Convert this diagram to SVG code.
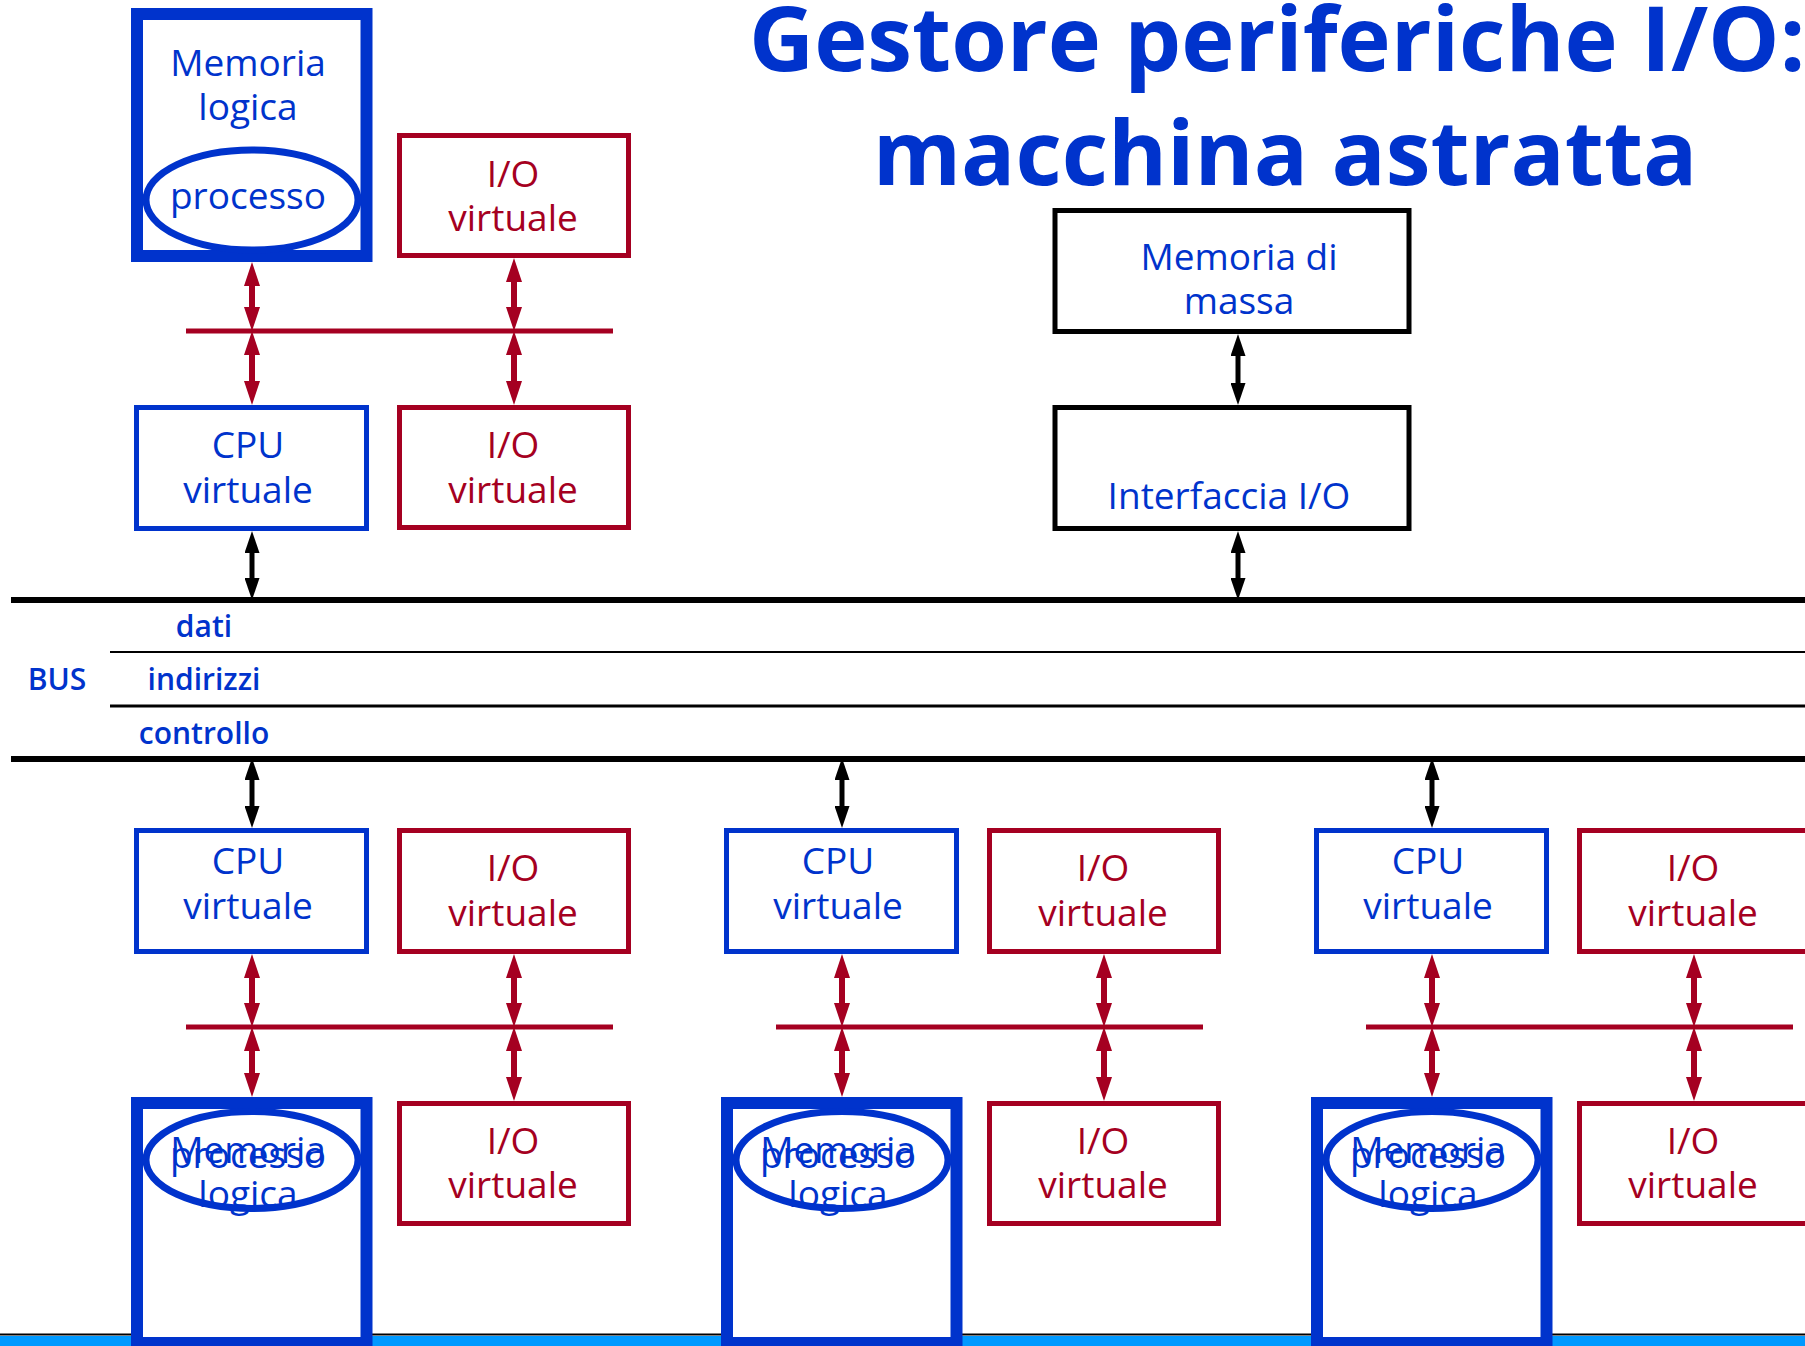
<svg xmlns="http://www.w3.org/2000/svg" width="1805" height="1346" viewBox="0 0 1805 1346">
<style>
.t{font-family:"Open Sans","Liberation Sans",sans-serif;font-size:37px;font-weight:500;text-anchor:middle}
.b{fill:#0033cc}
.r{fill:#a50021}
.bus{font-family:"Open Sans","Liberation Sans",sans-serif;font-size:30px;font-weight:600;fill:#0033cc;text-anchor:middle}
.title{font-family:"Open Sans","Liberation Sans",sans-serif;font-size:90px;font-weight:bold;fill:#0033cc}
.mem{fill:#fff;stroke:#0033cc;stroke-width:12}
.ell{fill:none;stroke:#0033cc;stroke-width:7}
.ellw{fill:#fff;stroke:#0033cc;stroke-width:7}
.cpu{fill:#fff;stroke:#0033cc;stroke-width:5}
.io{fill:#fff;stroke:#a50021;stroke-width:5}
.blk{fill:#fff;stroke:#000;stroke-width:5}
.rl{stroke:#a50021;stroke-width:6;marker-start:url(#ar);marker-end:url(#ar)}
.bl{stroke:#000;stroke-width:5;marker-start:url(#ab);marker-end:url(#ab)}
.rh{stroke:#a50021;stroke-width:5}
</style>
<defs>
<marker id="ar" viewBox="0 0 24 16" refX="14" refY="8" markerWidth="24" markerHeight="16" markerUnits="userSpaceOnUse" orient="auto-start-reverse"><path d="M0,0L24,8L0,16z" fill="#a50021"/></marker>
<marker id="ab" viewBox="0 0 22 15" refX="12" refY="7.5" markerWidth="22" markerHeight="15" markerUnits="userSpaceOnUse" orient="auto-start-reverse"><path d="M0,0L22,7.5L0,15z" fill="#000"/></marker>
</defs>
<rect width="1805" height="1346" fill="#fff"/>

<g id="title">
<text class="title" x="749" y="71">Gestore periferiche I/O:</text>
<text class="title" x="1285" y="185" text-anchor="middle" font-size="88">macchina astratta</text>
</g>

<g id="bus">
<line x1="11" y1="600" x2="1805" y2="600" stroke="#000" stroke-width="6"/>
<line x1="110" y1="652" x2="1805" y2="652" stroke="#000" stroke-width="2"/>
<line x1="110" y1="706" x2="1805" y2="706" stroke="#000" stroke-width="3"/>
<line x1="11" y1="759" x2="1805" y2="759" stroke="#000" stroke-width="6"/>
<text class="bus" x="57" y="690">BUS</text>
<text class="bus" x="204" y="637">dati</text>
<text class="bus" x="204" y="690">indirizzi</text>
<text class="bus" x="204" y="744">controllo</text>
</g>

<g id="footer">
<rect x="0" y="1336" width="1805" height="10" fill="#0099ff"/>
<line x1="0" y1="1334.5" x2="1805" y2="1334.5" stroke="#000" stroke-width="2"/>
</g>

<g id="connectors">
<line class="rh" x1="186" y1="331" x2="613" y2="331"/>
<line class="rh" x1="186" y1="1027" x2="613" y2="1027"/>
<line class="rh" x1="776" y1="1027" x2="1203" y2="1027"/>
<line class="rh" x1="1366" y1="1027" x2="1793" y2="1027"/>
<line class="rl" x1="252" y1="272" x2="252" y2="321"/>
<line class="rl" x1="252" y1="341" x2="252" y2="395"/>
<line class="rl" x1="514" y1="268" x2="514" y2="321"/>
<line class="rl" x1="514" y1="341" x2="514" y2="395"/>
<line class="bl" x1="252" y1="541" x2="252" y2="590"/>
<line class="bl" x1="1238" y1="344" x2="1238" y2="395"/>
<line class="bl" x1="1238" y1="541" x2="1238" y2="590"/>
<line class="bl" x1="252" y1="768" x2="252" y2="818"/>
<line class="bl" x1="842" y1="768" x2="842" y2="818"/>
<line class="bl" x1="1432" y1="768" x2="1432" y2="818"/>
<line class="rl" x1="252" y1="964" x2="252" y2="1017"/>
<line class="rl" x1="252" y1="1037" x2="252" y2="1087"/>
<line class="rl" x1="514" y1="964" x2="514" y2="1017"/>
<line class="rl" x1="514" y1="1037" x2="514" y2="1091"/>
<line class="rl" x1="842" y1="964" x2="842" y2="1017"/>
<line class="rl" x1="842" y1="1037" x2="842" y2="1087"/>
<line class="rl" x1="1104" y1="964" x2="1104" y2="1017"/>
<line class="rl" x1="1104" y1="1037" x2="1104" y2="1091"/>
<line class="rl" x1="1432" y1="964" x2="1432" y2="1017"/>
<line class="rl" x1="1432" y1="1037" x2="1432" y2="1087"/>
<line class="rl" x1="1694" y1="964" x2="1694" y2="1017"/>
<line class="rl" x1="1694" y1="1037" x2="1694" y2="1091"/>
</g>

<g id="mem-top">
<rect class="mem" x="137" y="14" width="229.5" height="242"/>
<text class="t b" x="248" y="76">Memoria</text>
<text class="t b" x="248" y="120">logica</text>
<ellipse class="ellw" cx="252" cy="200" rx="106" ry="50"/>
<text class="t b" x="248" y="209">processo</text>
</g>
<g id="io-top1">
<rect class="io" x="399.5" y="135.5" width="229" height="120"/>
<text class="t r" x="513" y="187">I/O</text>
<text class="t r" x="513" y="231">virtuale</text>
</g>
<g id="cpu-top">
<rect class="cpu" x="136.5" y="407.5" width="230" height="121"/>
<text class="t b" x="248" y="458">CPU</text>
<text class="t b" x="248" y="503">virtuale</text>
</g>
<g id="io-top2">
<rect class="io" x="399.5" y="407.5" width="229" height="120"/>
<text class="t r" x="513" y="458">I/O</text>
<text class="t r" x="513" y="503">virtuale</text>
</g>
<g id="massa">
<rect class="blk" x="1055" y="210.5" width="354" height="121"/>
<text class="t b" x="1239" y="270">Memoria di</text>
<text class="t b" x="1239" y="314">massa</text>
</g>
<g id="interfaccia">
<rect class="blk" x="1055" y="407.5" width="354" height="121"/>
<text class="t b" x="1229" y="509">Interfaccia I/O</text>
</g>

<g id="cpu-1">
<rect class="cpu" x="136.5" y="830.5" width="230" height="121"/>
<text class="t b" x="248" y="874">CPU</text>
<text class="t b" x="248" y="919">virtuale</text>
</g>
<g id="io-1a">
<rect class="io" x="399.5" y="830.5" width="229" height="121"/>
<text class="t r" x="513" y="881">I/O</text>
<text class="t r" x="513" y="926">virtuale</text>
</g>
<g id="mem-1">
<rect class="mem" x="137" y="1103" width="229.5" height="240"/>
<ellipse class="ell" cx="252" cy="1160" rx="106" ry="48.5"/>
<text class="t b" x="248" y="1163">Memoria</text>
<text class="t b" x="248" y="1207">logica</text>
<text class="t b" x="248" y="1168">processo</text>
</g>
<g id="io-1b">
<rect class="io" x="399.5" y="1103.5" width="229" height="120"/>
<text class="t r" x="513" y="1154">I/O</text>
<text class="t r" x="513" y="1198">virtuale</text>
</g>

<g id="cpu-2">
<rect class="cpu" x="726.5" y="830.5" width="230" height="121"/>
<text class="t b" x="838" y="874">CPU</text>
<text class="t b" x="838" y="919">virtuale</text>
</g>
<g id="io-2a">
<rect class="io" x="989.5" y="830.5" width="229" height="121"/>
<text class="t r" x="1103" y="881">I/O</text>
<text class="t r" x="1103" y="926">virtuale</text>
</g>
<g id="mem-2">
<rect class="mem" x="727" y="1103" width="229.5" height="240"/>
<ellipse class="ell" cx="842" cy="1160" rx="106" ry="48.5"/>
<text class="t b" x="838" y="1163">Memoria</text>
<text class="t b" x="838" y="1207">logica</text>
<text class="t b" x="838" y="1168">processo</text>
</g>
<g id="io-2b">
<rect class="io" x="989.5" y="1103.5" width="229" height="120"/>
<text class="t r" x="1103" y="1154">I/O</text>
<text class="t r" x="1103" y="1198">virtuale</text>
</g>

<g id="cpu-3">
<rect class="cpu" x="1316.5" y="830.5" width="230" height="121"/>
<text class="t b" x="1428" y="874">CPU</text>
<text class="t b" x="1428" y="919">virtuale</text>
</g>
<g id="io-3a">
<rect class="io" x="1579.5" y="830.5" width="229" height="121"/>
<text class="t r" x="1693" y="881">I/O</text>
<text class="t r" x="1693" y="926">virtuale</text>
</g>
<g id="mem-3">
<rect class="mem" x="1317" y="1103" width="229.5" height="240"/>
<ellipse class="ell" cx="1432" cy="1160" rx="106" ry="48.5"/>
<text class="t b" x="1428" y="1163">Memoria</text>
<text class="t b" x="1428" y="1207">logica</text>
<text class="t b" x="1428" y="1168">processo</text>
</g>
<g id="io-3b">
<rect class="io" x="1579.5" y="1103.5" width="229" height="120"/>
<text class="t r" x="1693" y="1154">I/O</text>
<text class="t r" x="1693" y="1198">virtuale</text>
</g>
</svg>
